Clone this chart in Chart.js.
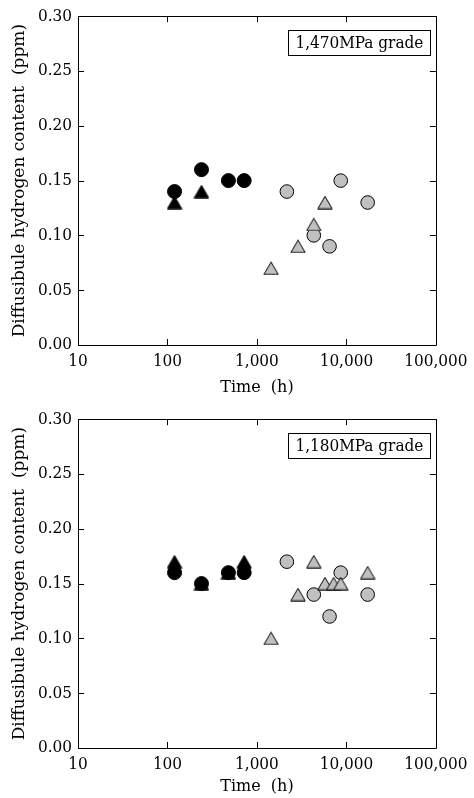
<!DOCTYPE html>
<html>
<head>
<meta charset="utf-8">
<script src="https://cdn.jsdelivr.net/npm/chart.js@4.4.1/dist/chart.umd.min.js"></script>
<style>
  html, body { margin: 0; padding: 0; background: #fff; }
  body { width: 474px; height: 798px; position: relative; overflow: hidden; }
  canvas { position: absolute; left: 0; }
  #c1 { top: 0; }
  #c2 { top: 403px; }
</style>
</head>
<body>
<canvas id="c1" width="474" height="403"></canvas>
<canvas id="c2" width="474" height="395"></canvas>
<script>
// ---------- data ----------
const xTicks = [10, 100, 1000, 10000, 100000];
const yTicks = [0, 0.05, 0.10, 0.15, 0.20, 0.25, 0.30];
const xTitle = 'Time  (h)';
const yTitle = 'Diffusibule hydrogen content  (ppm)';

// Panel 1: 1,470MPa grade
const p1Label = '1,470MPa grade';
const p1BlackCircleX = [120, 240, 480, 720];
const p1BlackCircleY = [0.14, 0.16, 0.15, 0.15];
const p1BlackTriX = [120, 240];
const p1BlackTriY = [0.13, 0.14];
const p1GrayCircleX = [2160, 4320, 6480, 8640, 17280];
const p1GrayCircleY = [0.14, 0.10, 0.09, 0.15, 0.13];
const p1GrayTriX = [1440, 2880, 4320, 5760];
const p1GrayTriY = [0.07, 0.09, 0.11, 0.13];

// Panel 2: 1,180MPa grade
const p2Label = '1,180MPa grade';
const p2BlackCircleX = [120, 240, 480, 720];
const p2BlackCircleY = [0.16, 0.15, 0.16, 0.16];
const p2BlackTriX = [120, 240, 480, 720];
const p2BlackTriY = [0.17, 0.15, 0.16, 0.17];
const p2GrayCircleX = [2160, 4320, 6480, 8640, 17280];
const p2GrayCircleY = [0.17, 0.14, 0.12, 0.16, 0.14];
const p2GrayTriX = [1440, 2880, 4320, 5760, 7200, 8640, 17280];
const p2GrayTriY = [0.10, 0.14, 0.17, 0.15, 0.15, 0.15, 0.16];

// ---------- styles ----------
const COND = "'DejaVu Serif Condensed', 'DejaVu Serif', serif";
const SERIF = "'DejaVu Serif', serif";
const TICK_FONT = { family: COND, size: 17 };
const GRAY = '#c0c0c0';
Chart.defaults.color = '#000';
Chart.defaults.font.family = COND;
Chart.defaults.font.size = 17;

function triangleImage(fill) {
  const c = document.createElement('canvas');
  c.width = 16; c.height = 14;
  const g = c.getContext('2d');
  g.beginPath();
  g.moveTo(8, 0.8);
  g.lineTo(15.2, 13.2);
  g.lineTo(0.8, 13.2);
  g.closePath();
  g.fillStyle = fill;
  g.fill();
  g.lineWidth = 1;
  g.strokeStyle = '#000';
  g.stroke();
  return c;
}
const triBlack = triangleImage('#000');
const triGray = triangleImage(GRAY);

function pts(xs, ys) { return xs.map((x, i) => ({ x: x, y: ys[i] })); }

const framePlugin = {
  id: 'frame',
  beforeDatasetsDraw(chart) {
    const { ctx, chartArea: a } = chart;
    const xs = chart.scales.x, ys = chart.scales.y;
    ctx.save();
    ctx.strokeStyle = '#000';
    ctx.lineWidth = 1;
    ctx.beginPath();
    ctx.rect(Math.round(a.left) + 0.5, Math.round(a.top) + 0.5,
             Math.round(a.right - a.left), Math.round(a.bottom - a.top));
    const TL = 6;
    xTicks.forEach(v => {
      const px = Math.round(xs.getPixelForValue(v)) + 0.5;
      ctx.moveTo(px, a.top); ctx.lineTo(px, a.top + TL);
      ctx.moveTo(px, a.bottom); ctx.lineTo(px, a.bottom - TL);
    });
    yTicks.forEach(v => {
      const py = Math.round(ys.getPixelForValue(v)) + 0.5;
      ctx.moveTo(a.left, py); ctx.lineTo(a.left + TL, py);
      ctx.moveTo(a.right, py); ctx.lineTo(a.right - TL, py);
    });
    ctx.stroke();
    ctx.restore();
  },
  afterDraw(chart) {
    const label = chart.options.plugins.frame.label;
    const { ctx, chartArea: a } = chart;
    ctx.save();
    ctx.font = '17px ' + COND;
    const w = ctx.measureText(label).width + 14;
    const h = 25;
    const right = a.right - 5.5;
    const top = a.top + 14;
    ctx.fillStyle = '#fff';
    ctx.fillRect(right - w, top, w, h);
    ctx.strokeStyle = '#000';
    ctx.lineWidth = 1;
    ctx.strokeRect(Math.round(right - w) + 0.5, Math.round(top) + 0.5, Math.round(w), h);
    ctx.fillStyle = '#000';
    ctx.textAlign = 'center';
    ctx.textBaseline = 'middle';
    ctx.fillText(label, right - w / 2, top + h / 2 + 1);
    ctx.restore();
  }
};

function makeChart(id, canvasH, titleBottomPad, label, bcx, bcy, btx, bty, gcx, gcy, gtx, gty) {
  return new Chart(document.getElementById(id), {
    type: 'scatter',
    data: {
      datasets: [
        { data: pts(btx, bty), pointStyle: triBlack, order: 0 },
        { data: pts(gtx, gty), pointStyle: triGray, order: 0 },
        { data: pts(bcx, bcy), pointStyle: 'circle', pointRadius: 7,
          backgroundColor: '#000', borderColor: '#000', borderWidth: 1, order: 1 },
        { data: pts(gcx, gcy), pointStyle: 'circle', pointRadius: 6.8,
          backgroundColor: GRAY, borderColor: '#000', borderWidth: 1, order: 1 }
      ]
    },
    options: {
      responsive: false,
      animation: false,
      events: [],
      layout: { padding: { left: 0, right: 33, top: 15, bottom: 0 } },
      plugins: {
        legend: { display: false },
        tooltip: { enabled: false },
        frame: { label: label }
      },
      scales: {
        x: {
          type: 'logarithmic',
          min: 10, max: 100000,
          grid: { display: false, drawTicks: false },
          border: { display: false },
          afterBuildTicks: s => { s.ticks = xTicks.map(v => ({ value: v, major: true })); },
          afterFit: s => { s.height = canvasH - 345; },
          ticks: {
            font: TICK_FONT,
            padding: 6.5,
            autoSkip: false,
            maxRotation: 0,
            callback: v => Number(v).toLocaleString('en-US')
          },
          title: { display: true, text: xTitle, font: { family: SERIF, size: 16 },
                   padding: { top: 0, bottom: titleBottomPad } }
        },
        y: {
          type: 'linear',
          min: 0, max: 0.30,
          grid: { display: false, drawTicks: false },
          border: { display: false },
          afterBuildTicks: s => { s.ticks = yTicks.map(v => ({ value: v })); },
          afterFit: s => { s.width = 78; },
          ticks: { font: TICK_FONT, padding: 6, callback: v => Number(v).toFixed(2) },
          title: { display: true, text: yTitle, font: { family: SERIF, size: 17 },
                   padding: { top: 9.8, bottom: 0 } }
        }
      }
    },
    plugins: [framePlugin]
  });
}

makeChart('c1', 403, 6, p1Label,
  p1BlackCircleX, p1BlackCircleY, p1BlackTriX, p1BlackTriY,
  p1GrayCircleX, p1GrayCircleY, p1GrayTriX, p1GrayTriY);
makeChart('c2', 395, 1.4, p2Label,
  p2BlackCircleX, p2BlackCircleY, p2BlackTriX, p2BlackTriY,
  p2GrayCircleX, p2GrayCircleY, p2GrayTriX, p2GrayTriY);
</script>
</body>
</html>
